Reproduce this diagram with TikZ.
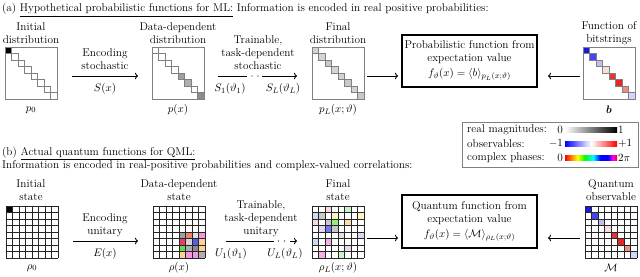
\documentclass[tikz,border=0pt]{standalone}
\usepackage{amsmath,amssymb}
\usetikzlibrary{arrows.meta,calc}
\definecolor{cA}{RGB}{25,25,225}
\definecolor{cB}{RGB}{70,70,240}
\definecolor{cC}{RGB}{190,190,245}
\definecolor{cD}{RGB}{250,222,222}
\definecolor{cE}{RGB}{235,50,50}
\definecolor{cF}{RGB}{228,38,38}
\definecolor{cG}{RGB}{240,140,130}
\definecolor{cH}{RGB}{212,212,250}
\definecolor{gA}{RGB}{160,160,160}
\definecolor{gB}{RGB}{175,175,175}
\definecolor{gC}{RGB}{140,140,140}
\definecolor{gL}{RGB}{212,212,212}
\definecolor{gM}{RGB}{200,200,200}
\definecolor{gN}{RGB}{225,225,225}
\definecolor{qSal}{RGB}{240,130,110}
\definecolor{qPink}{RGB}{245,150,225}
\definecolor{qCrim}{RGB}{235,60,110}
\definecolor{qBlue}{RGB}{90,90,235}
\definecolor{qPeach}{RGB}{250,210,150}
\definecolor{qGreen}{RGB}{100,220,80}
\definecolor{lPink}{RGB}{250,215,225}
\definecolor{lGreen}{RGB}{200,245,200}
\definecolor{lBlue}{RGB}{200,220,250}
\definecolor{lYel}{RGB}{250,245,195}
\definecolor{lOr}{RGB}{250,220,170}
\definecolor{lLav}{RGB}{225,212,250}
\definecolor{mBlue}{RGB}{120,120,240}
\definecolor{mGreen}{RGB}{150,240,120}
\definecolor{mPink}{RGB}{245,175,230}
\pgfdeclarehorizontalshading{phase}{100bp}{color(0bp)=(red); color(25bp)=(red); color(31bp)=(orange); color(37bp)=(yellow); color(44bp)=(green); color(52bp)=(cyan); color(59bp)=(blue); color(66bp)=(blue); color(71bp)=(magenta); color(75bp)=(red); color(100bp)=(red)}
\newcommand\diagmat[4]{%
  \node[draw=gray, line width=0.5pt, minimum size=52pt, inner sep=0pt, outer sep=0pt, anchor=north west] (#1) at (#2,#3) {};
  \foreach \cc [count=\i from 0] in {#4} {\filldraw[fill=\cc, draw=gray, line width=0.55pt] ({#2+\i*6.5},{#3+\i*6.5}) rectangle ++(6.5,6.5);}
}
\newcommand\gridmat[4]{%
  \foreach \rr/\cl/\cc in {#4} {\fill[\cc] ({#2+\cl*6.5},{#3+\rr*6.5}) rectangle ++(6.5,6.5);}
  \foreach \k in {0,...,8} {\draw[gridln] ({#2+\k*6.5},#3) -- ++(0,52); \draw[gridln] (#2,{#3+\k*6.5}) -- ++(52,0);}
  \node[minimum size=52pt, inner sep=0pt, outer sep=0pt, anchor=north west] (#1) at (#2,#3) {};
}
\begin{document}
\begin{tikzpicture}[x=1pt,y=-1pt,
  font=\fontsize{11.25}{12.9}\selectfont,
  lbl/.style={align=center, inner sep=0pt},
  arr/.style={line width=0.9pt, -{To[length=3pt,width=6.5pt]}},
  seg/.style={line width=0.9pt},
  gridln/.style={line width=0.65pt, black!85},
  fbox/.style={draw, line width=1.1pt, minimum width=135pt, inner sep=2pt, align=center}]
\useasboundingbox (0,0) rectangle (640,276);

% ---------- panel (a) ----------
\node[anchor=west, inner sep=0pt] (ta) at (2,10) {(a) \underline{Hypothetical probabilistic functions for ML:} Information is encoded in real positive probabilities:};

\diagmat{m1}{5}{47}{black,white,white,white,white,white,white,white}
\diagmat{m2}{152}{47}{white,white,white,white,gA,gB,white,gC}
\diagmat{m3}{312}{47}{gL,gL,gM,gL,gL,gM,gL,gM}
\diagmat{m4}{583}{47}{cA,cB,cC,cD,cE,cF,cG,cH}

\node[lbl] (l1) at (31,33) {Initial\\distribution};
\node[lbl] (l2) at (178,33) {Data-dependent\\distribution};
\node[lbl] (l3) at (338,33) {Final\\distribution};
\node[lbl] (l4) at (609,33) {Function of\\bitstrings};

\node[lbl] (s1) at (31,110) {$p_0$};
\node[lbl] (s2) at (178,110) {$p(x)$};
\node[lbl] (s3) at (338,110) {$p_L(x;\vartheta)$};
\node[lbl] (s4) at (609,110) {$\boldsymbol{b}$};

\coordinate (a1s) at (72,76); \coordinate (a1e) at (138,76);
\draw[arr] (a1s) -- (a1e);
\node[lbl] (e1) at (105,59) {Encoding\\stochastic};
\node[lbl] (e1b) at (105,89) {$S(x)$};

\coordinate (a2s) at (218,76); \coordinate (a2m) at (247,76);
\coordinate (a2n) at (262,76); \coordinate (a2e) at (297,76);
\draw[seg] (a2s) -- (a2m);
\fill (252,76) circle (0.7); \fill (258,76) circle (0.7);
\draw[arr] (a2n) -- (a2e);
\node[lbl] (t1) at (258,53) {Trainable,\\task-dependent\\stochastic};
\node[lbl] (t1a) at (230,89) {$S_1(\vartheta_1)$};
\node[lbl] (t1b) at (283,89) {$S_L(\vartheta_L)$};

\node[fbox, minimum height=52pt] (box1) at (469.5,61) {Probabilistic function from\\expectation value\\[2pt] $f_\vartheta(x) = \langle b\rangle_{p_L(x;\vartheta)}$};
\coordinate (a3s) at (367,76); \coordinate (a3e) at (398,76);
\draw[arr] (a3s) -- (a3e);
\coordinate (a4s) at (580,76); \coordinate (a4e) at (548,76);
\draw[arr] (a4s) -- (a4e);

% ---------- legend ----------
\node[draw=gray, line width=0.7pt, minimum width=176pt, minimum height=45pt, anchor=north west, inner sep=0pt] (leg) at (462,122) {};
\node[anchor=west, inner sep=0pt] (lg1) at (467,129.5) {real magnitudes:};
\node[anchor=west, inner sep=0pt] (lg2) at (467,143.5) {observables:};
\node[anchor=west, inner sep=0pt] (lg3) at (467,157.5) {complex phases:};
\shade[left color=white, right color=black] (565,127) rectangle (617,132);
\shade[left color=blue, right color=red, middle color=white] (565,141) rectangle (617,146);
\shade[shading=phase] (565,155) rectangle (617,160);
\node[anchor=east, inner sep=0pt] (v1a) at (563,129.5) {0};
\node[anchor=west, inner sep=0pt] (v1b) at (618,129.5) {1};
\node[anchor=east, inner sep=0pt] (v2a) at (563,143.5) {$-1$};
\node[anchor=west, inner sep=0pt] (v2b) at (618,143.5) {$+1$};
\node[anchor=east, inner sep=0pt] (v3a) at (563,157.5) {0};
\node[anchor=west, inner sep=0pt] (v3b) at (618,157.5) {$2\pi$};

% ---------- panel (b) ----------
\node[anchor=west, inner sep=0pt] (tb) at (2,153) {(b) \underline{Actual quantum functions for QML:}};
\node[anchor=west, inner sep=0pt] (tb2) at (2,166) {Information is encoded in real-positive probabilities and complex-valued correlations:};

\gridmat{q1}{6}{206}{0/0/black}
\gridmat{q2}{153}{206}{4/4/gA,4/5/qSal,4/6/gN,4/7/qPink,5/4/qCrim,5/5/gL,5/6/qBlue,5/7/qPeach,6/4/qGreen,6/5/gB,6/6/gC,6/7/qPeach,7/4/qPeach,7/5/qPink,7/6/qPink,7/7/gB}
\gridmat{q3}{312}{206}{0/2/lPink,0/5/lGreen,1/0/lBlue,1/1/gM,1/3/lYel,1/7/lYel,2/0/lPink,2/2/gM,2/3/mGreen,2/5/lOr,3/1/lLav,3/2/mBlue,3/3/gM,4/4/gN,4/7/lLav,5/0/lBlue,5/2/mPink,6/5/gN,7/1/mPink,7/4/lGreen}
\gridmat{q4}{585}{206}{0/0/cA,1/1/cB,2/2/cC,3/3/cD,4/4/cE,5/5/cF,6/6/cG,7/7/cH}

\node[lbl] (k1) at (31,190) {Initial\\state};
\node[lbl] (k2) at (179,190) {Data-dependent\\state};
\node[lbl] (k3) at (338,190) {Final\\state};
\node[lbl] (k4) at (611,190) {Quantum\\observable};

\node[lbl] (r1) at (32,268) {$\rho_0$};
\node[lbl] (r2) at (179,268) {$\rho(x)$};
\node[lbl] (r3) at (338,268) {$\rho_L(x;\vartheta)$};
\node[lbl] (r4) at (611,268) {$\mathcal{M}$};

\coordinate (b1s) at (73,241); \coordinate (b1e) at (138,241);
\draw[arr] (b1s) -- (b1e);
\node[lbl] (f1) at (105,225.5) {Encoding\\unitary};
\node[lbl] (f1b) at (105,254) {$E(x)$};

\coordinate (b2s) at (226,241); \coordinate (b2m) at (274,241);
\coordinate (b2n) at (290,241); \coordinate (b2e) at (297,241);
\draw[seg] (b2s) -- (b2m);
\fill (278.5,241) circle (0.7); \fill (284.5,241) circle (0.7);
\draw[arr] (b2n) -- (b2e);
\node[lbl] (u1) at (261,219) {Trainable,\\task-dependent\\unitary};
\node[lbl] (u1a) at (231,254) {$U_1(\vartheta_1)$};
\node[lbl] (u1b) at (285,254) {$U_L(\vartheta_L)$};

\node[fbox, minimum height=53pt] (box2) at (469.5,221.5) {Quantum function from\\expectation value\\[2pt] $f_\vartheta(x) = \langle \mathcal{M}\rangle_{\rho_L(x;\vartheta)}$};
\coordinate (b3s) at (367,238); \coordinate (b3e) at (398,238);
\draw[arr] (b3s) -- (b3e);
\coordinate (b4s) at (580,238); \coordinate (b4e) at (548,238);
\draw[arr] (b4s) -- (b4e);
\end{tikzpicture}
\end{document}
